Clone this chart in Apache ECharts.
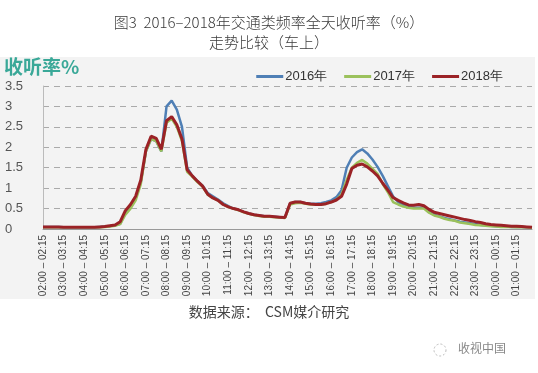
<!DOCTYPE html>
<html><head><meta charset="utf-8">
<script src="https://cdn.jsdelivr.net/npm/echarts@6/dist/echarts.min.js"></script>
<style>html,body{margin:0;padding:0;background:#fff}#c{width:538px;height:373px}</style>
</head><body><div id="c"></div>
<script>
// hourly tick labels (every 4th 15-min slot)
const hourStarts = ["02","03","04","05","06","07","08","09","10","11","12","13","14","15","16","17","18","19","20","21","22","23","00","01"];
const quarterStarts = ["00","15","30","45"];
const seriesNames = ["2016年","2017年","2018年"];

const v2016 = [0.05,0.05,0.05,0.05,0.04,0.04,0.04,0.04,0.04,0.04,0.04,0.05,
  0.06,0.07,0.09,0.13,0.4,0.55,0.75,1.15,1.9,2.2,2.15,1.9,
  3.0,3.14,2.92,2.5,1.5,1.3,1.17,1.06,0.88,0.8,0.72,0.63,
  0.56,0.5,0.47,0.42,0.38,0.35,0.33,0.31,0.3,0.3,0.29,0.28,
  0.62,0.66,0.66,0.63,0.62,0.62,0.63,0.66,0.7,0.78,0.95,1.5,
  1.75,1.88,1.95,1.85,1.7,1.52,1.3,1.05,0.8,0.66,0.6,0.55,
  0.52,0.52,0.52,0.42,0.35,0.31,0.27,0.24,0.21,0.18,0.16,0.14,
  0.12,0.1,0.09,0.08,0.07,0.06,0.06,0.05,0.05,0.05,0.04,0.04];

const v2017 = [0.04,0.04,0.04,0.04,0.04,0.04,0.04,0.04,0.04,0.04,0.04,0.04,
  0.05,0.06,0.08,0.12,0.35,0.5,0.7,1.1,1.9,2.2,2.15,1.9,
  2.6,2.7,2.5,2.15,1.4,1.28,1.15,1.04,0.84,0.76,0.7,0.6,
  0.54,0.5,0.46,0.41,0.37,0.34,0.32,0.3,0.3,0.29,0.28,0.27,
  0.6,0.63,0.64,0.62,0.6,0.6,0.6,0.62,0.66,0.72,0.85,1.2,
  1.5,1.62,1.69,1.6,1.48,1.35,1.1,0.9,0.66,0.6,0.55,0.52,
  0.5,0.5,0.5,0.4,0.33,0.3,0.25,0.22,0.2,0.16,0.14,0.12,
  0.1,0.09,0.08,0.07,0.06,0.05,0.05,0.05,0.04,0.04,0.04,0.03];

const v2018 = [0.05,0.05,0.05,0.05,0.04,0.04,0.04,0.04,0.04,0.04,0.04,0.05,
  0.06,0.08,0.1,0.18,0.45,0.6,0.8,1.2,1.95,2.27,2.22,1.95,
  2.65,2.75,2.55,2.2,1.45,1.3,1.17,1.05,0.85,0.76,0.7,0.6,
  0.54,0.5,0.47,0.42,0.38,0.35,0.33,0.31,0.31,0.3,0.29,0.28,
  0.63,0.66,0.66,0.63,0.61,0.6,0.6,0.62,0.66,0.71,0.8,1.1,
  1.48,1.56,1.59,1.52,1.42,1.3,1.12,0.95,0.77,0.7,0.64,0.59,
  0.58,0.6,0.57,0.48,0.41,0.38,0.35,0.32,0.29,0.26,0.23,0.21,
  0.18,0.16,0.13,0.11,0.1,0.09,0.08,0.07,0.07,0.06,0.05,0.04];

const categories = [];
hourStarts.forEach(h => quarterStarts.forEach((q, k) => {
  const endM = (parseInt(q) + 15) % 60;
  const endH = endM === 0 ? String((parseInt(h) + 1) % 24).padStart(2, "0") : h;
  categories.push(h + ":" + q + " – " + endH + ":" + String(endM).padStart(2, "0"));
}));

const colors = ["#4f7fb5", "#9bc15c", "#9b2226"];
const chart = echarts.init(document.getElementById('c'), null, {renderer: 'canvas'});
chart.setOption({
  animation: false,
  backgroundColor: '#fff',
  title: {
    text: '图3  2016–2018年交通类频率全天收听率（%）\n走势比较（车上）',
    left: 'center', top: 7,
    textStyle: {fontFamily: 'Noto Sans CJK SC', fontSize: 15, fontWeight: 300, color: '#3a3a3a', lineHeight: 20}
  },
  graphic: [
    {type: 'rect', shape: {x: 0, y: 57, width: 535, height: 242}, style: {fill: '#f3f3f3'}, z: -10},
    {type: 'text', left: 4, top: 57, style: {text: '收听率%', fill: '#3aa898', font: 'bold 19px "Noto Sans CJK SC"'}},
    {type: 'text', left: 'center', top: 305, style: {text: '数据来源：  CSM媒介研究', fill: '#444', font: '14px "Noto Sans CJK SC"'}},
    {type: 'circle', shape: {cx: 440, cy: 350, r: 6}, style: {fill: 'none', stroke: '#bbb', lineWidth: 1, lineDash: [2, 2]}},
    {type: 'text', left: 458, top: 342, style: {text: '收视中国', fill: '#888', font: '12px "Noto Sans CJK SC"'}}
  ],
  legend: {
    data: seriesNames, right: 30, top: 65, itemGap: 17, itemWidth: 27, itemHeight: 3,
    icon: 'rect',
    textStyle: {fontFamily: 'Arial, Liberation Sans', fontSize: 13, color: '#333', padding: [0, 0, 0, -3]}
  },
  grid: {left: 43, right: 6, top: 86, bottom: 144, containLabel: false},
  xAxis: {
    type: 'category', data: categories, boundaryGap: false,
    axisLine: {lineStyle: {color: '#999'}},
    axisTick: {show: false},
    axisLabel: {interval: 3, rotate: 90, fontFamily: 'Liberation Sans', fontSize: 10, color: '#444', margin: 6}
  },
  yAxis: {
    type: 'value', min: 0, max: 3.5, interval: 0.5,
    axisLine: {show: true, lineStyle: {color: '#bbb'}},
    axisTick: {show: false},
    axisLabel: {fontFamily: 'Liberation Sans', fontSize: 13, color: '#555', margin: 38, align: 'left',
      formatter: v => String(v)},
    splitLine: {lineStyle: {color: '#aaa', type: [6, 5]}}
  },
  series: seriesNames.map((n, i) => ({
    name: n, type: 'line', data: [v2016, v2017, v2018][i], symbol: 'none',
    lineStyle: {width: i === 2 ? 3 : 2.5, color: colors[i]}, itemStyle: {color: colors[i]}, z: 2 + i
  }))
});
</script></body></html>
